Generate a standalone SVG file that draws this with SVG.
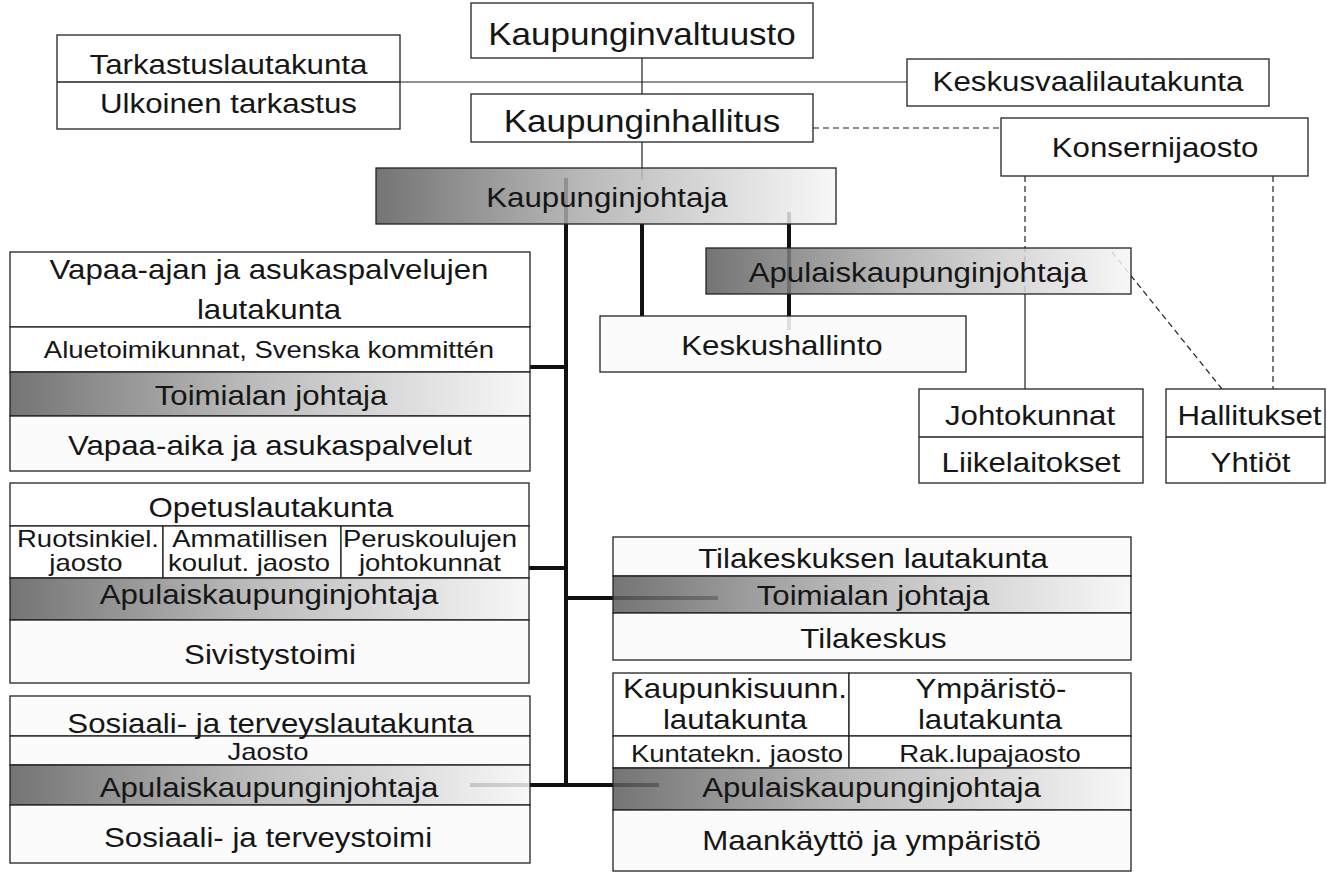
<svg xmlns="http://www.w3.org/2000/svg" width="1327" height="872" viewBox="0 0 1327 872">
<style>
.b{fill:#ffffff;stroke:#222;stroke-width:1.3}
.l{fill:#fafafa;fill-opacity:0.88;stroke:#222;stroke-width:1.3}
.g{fill:url(#grad);fill-opacity:0.85;stroke:#222;stroke-width:1.3}
.ln{fill:none;stroke:#222;stroke-width:1.3}
text{font-family:"Liberation Sans",Arial,sans-serif;fill:#161616;text-anchor:middle;font-size:27.3px}
.xl{font-size:30.6px}
.s{font-size:24px}
.thin{fill:none;stroke:#222;stroke-width:1.2}
.dash{fill:none;stroke:#222;stroke-width:1.2;stroke-dasharray:6,4}
.thick{fill:none;stroke:#111;stroke-width:4}
</style>
<defs>
<linearGradient id="grad" x1="0" y1="0" x2="1" y2="0">
<stop offset="0" stop-color="#5c5c5c"/>
<stop offset="0.45" stop-color="#adadad"/>
<stop offset="1" stop-color="#f6f6f6"/>
</linearGradient>
</defs>
<rect width="1327" height="872" fill="#ffffff"/>
<g id="connectors">
<path class="thin" d="M400,82 H907 M642,58 V94 M642,142 V180 M1025,294 V389"/>
<path class="dash" d="M813,128 H1001 M1025,176 V294 M1273,176 V389 M1112,252 L1222,389"/>
<path class="thick" d="M566,178 V787 M642,224 V316 M789,212 V330 M530,367 H566 M529,568 H566 M566,598 H718 M470,785 H659"/>
</g>
<g id="kaupunginvaltuusto">
<rect class="b" x="471" y="3" width="342" height="55"/>
<text class="xl" transform="translate(642,45) scale(1.145,1)">Kaupunginvaltuusto</text>
</g>
<g id="tarkastus">
<rect class="b" x="57" y="35" width="343" height="94"/>
<path class="ln" d="M57,82 H400"/>
<text transform="translate(228.5,74) scale(1.145,1)">Tarkastuslautakunta</text>
<text transform="translate(228.5,113) scale(1.145,1)">Ulkoinen tarkastus</text>
</g>
<g id="keskusvaalilautakunta">
<rect class="b" x="907" y="59" width="362" height="47"/>
<text transform="translate(1088,91) scale(1.145,1)">Keskusvaalilautakunta</text>
</g>
<g id="kaupunginhallitus">
<rect class="b" x="471" y="94" width="342" height="48"/>
<text class="xl" transform="translate(642,132) scale(1.145,1)">Kaupunginhallitus</text>
</g>
<g id="konsernijaosto">
<rect class="b" x="1001" y="118" width="307" height="58"/>
<text transform="translate(1155,157) scale(1.145,1)">Konsernijaosto</text>
</g>
<g id="kaupunginjohtaja">
<rect class="g" x="376" y="168" width="460" height="56"/>
<text transform="translate(607,207) scale(1.145,1)">Kaupunginjohtaja</text>
</g>
<g id="apulaiskaupunginjohtaja-ylin">
<rect class="g" x="706" y="248" width="425" height="46"/>
<text transform="translate(918,282) scale(1.145,1)">Apulaiskaupunginjohtaja</text>
</g>
<g id="keskushallinto">
<rect class="l" x="600" y="316" width="366" height="56"/>
<text transform="translate(782,355) scale(1.145,1)">Keskushallinto</text>
</g>
<g id="johtokunnat">
<rect class="b" x="919" y="389" width="224" height="94"/>
<path class="ln" d="M919,437 H1143"/>
<text transform="translate(1030,425) scale(1.145,1)">Johtokunnat</text>
<text transform="translate(1031,472) scale(1.145,1)">Liikelaitokset</text>
</g>
<g id="hallitukset">
<rect class="b" x="1166" y="389" width="159" height="94"/>
<path class="ln" d="M1166,437 H1325"/>
<text transform="translate(1249.5,425) scale(1.145,1)">Hallitukset</text>
<text transform="translate(1250.5,472) scale(1.145,1)">Yhtiöt</text>
</g>
<g id="vapaa-aika">
<rect class="b" x="10" y="252" width="520" height="75"/>
<rect class="b" x="10" y="327" width="520" height="45"/>
<rect class="g" x="10" y="372" width="520" height="44"/>
<rect class="l" x="10" y="416" width="520" height="55"/>
<text transform="translate(269,279) scale(1.145,1)">Vapaa-ajan ja asukaspalvelujen</text>
<text transform="translate(269,319) scale(1.145,1)">lautakunta</text>
<text class="s" transform="translate(269,358) scale(1.145,1)">Aluetoimikunnat, Svenska kommittén</text>
<text transform="translate(271,405) scale(1.145,1)">Toimialan johtaja</text>
<text transform="translate(270,455) scale(1.145,1)">Vapaa-aika ja asukaspalvelut</text>
</g>
<g id="sivistystoimi">
<rect class="b" x="10" y="483" width="519" height="43"/>
<rect class="b" x="10" y="526" width="153" height="52"/>
<rect class="b" x="163" y="526" width="178" height="52"/>
<rect class="b" x="341" y="526" width="188" height="52"/>
<rect class="g" x="10" y="578" width="519" height="42"/>
<rect class="l" x="10" y="620" width="519" height="63"/>
<text transform="translate(271,517) scale(1.145,1)">Opetuslautakunta</text>
<text class="s" transform="translate(88,547) scale(1.145,1)">Ruotsinkiel.</text>
<text class="s" transform="translate(86,571) scale(1.145,1)">jaosto</text>
<text class="s" transform="translate(250,547) scale(1.145,1)">Ammatillisen</text>
<text class="s" transform="translate(249,571) scale(1.145,1)">koulut. jaosto</text>
<text class="s" transform="translate(430,547) scale(1.145,1)">Peruskoulujen</text>
<text class="s" transform="translate(430,571) scale(1.145,1)">johtokunnat</text>
<text transform="translate(269,604) scale(1.145,1)">Apulaiskaupunginjohtaja</text>
<text transform="translate(270,664) scale(1.145,1)">Sivistystoimi</text>
</g>
<g id="sosiaali-ja-terveystoimi">
<rect class="l" x="10" y="696" width="520" height="40"/>
<rect class="l" x="10" y="736" width="520" height="29"/>
<rect class="g" x="10" y="765" width="520" height="40"/>
<rect class="l" x="10" y="805" width="520" height="58"/>
<text transform="translate(270.5,733) scale(1.145,1)">Sosiaali- ja terveyslautakunta</text>
<text class="s" transform="translate(268,760) scale(1.145,1)">Jaosto</text>
<text transform="translate(269,797) scale(1.145,1)">Apulaiskaupunginjohtaja</text>
<text transform="translate(268,847) scale(1.145,1)">Sosiaali- ja terveystoimi</text>
</g>
<g id="tilakeskus">
<rect class="l" x="613" y="537" width="518" height="39"/>
<rect class="g" x="613" y="576" width="518" height="37"/>
<rect class="l" x="613" y="613" width="518" height="47"/>
<text transform="translate(873,568) scale(1.145,1)">Tilakeskuksen lautakunta</text>
<text transform="translate(873,605) scale(1.145,1)">Toimialan johtaja</text>
<text transform="translate(873.5,648) scale(1.145,1)">Tilakeskus</text>
</g>
<g id="maankaytto-ja-ymparisto">
<rect class="b" x="613" y="673" width="236" height="63"/>
<rect class="b" x="849" y="673" width="282" height="63"/>
<rect class="b" x="613" y="736" width="236" height="32"/>
<rect class="b" x="849" y="736" width="282" height="32"/>
<rect class="g" x="613" y="768" width="518" height="42"/>
<rect class="l" x="613" y="810" width="518" height="61"/>
<text transform="translate(735,698) scale(1.145,1)">Kaupunkisuunn.</text>
<text transform="translate(735,729) scale(1.145,1)">lautakunta</text>
<text transform="translate(991,698) scale(1.145,1)">Ympäristö-</text>
<text transform="translate(990,729) scale(1.145,1)">lautakunta</text>
<text class="s" transform="translate(737,762) scale(1.145,1)">Kuntatekn. jaosto</text>
<text class="s" transform="translate(990,762) scale(1.145,1)">Rak.lupajaosto</text>
<text transform="translate(871.5,797) scale(1.145,1)">Apulaiskaupunginjohtaja</text>
<text transform="translate(871.5,850) scale(1.145,1)">Maankäyttö ja ympäristö</text>
</g>
</svg>
